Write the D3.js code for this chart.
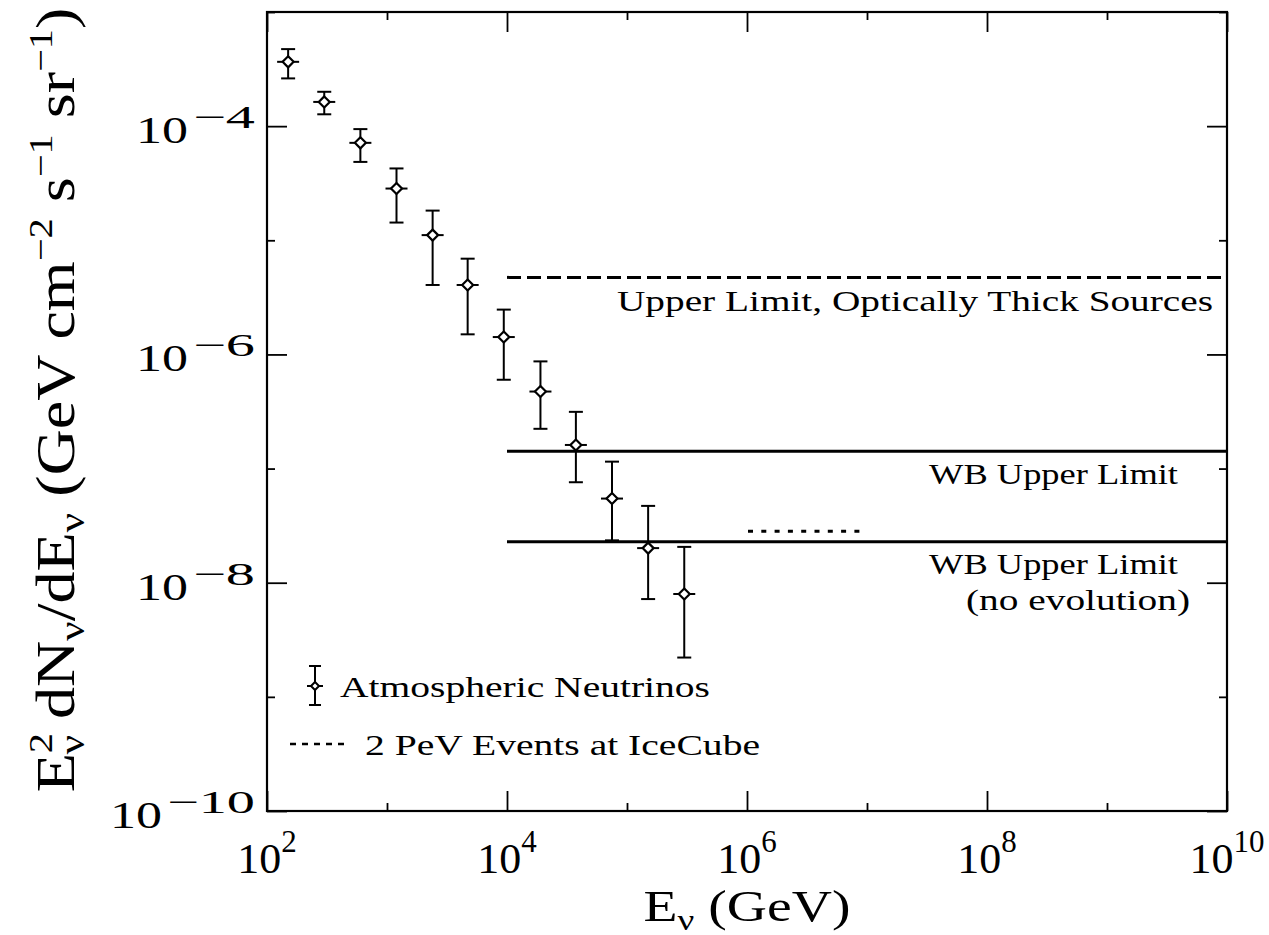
<!DOCTYPE html>
<html><head><meta charset="utf-8">
<script src="https://cdn.jsdelivr.net/npm/d3@7"></script>
<style>
body{margin:0;background:#fff}
svg{display:block}
text{font-family:"Liberation Serif",serif;fill:#000}
</style>
</head><body>
<svg id="c" width="1269" height="935"></svg>
<script>
// ---- data ----
const energy   = [150, 300, 600, 1200, 2400, 4700, 9400, 19000, 37500, 75000, 150000, 300000];
const flux     = [3.66e-4, 1.63e-4, 7.14e-5, 2.84e-5, 1.11e-5, 4.06e-6, 1.42e-6, 4.73e-7, 1.61e-7, 5.46e-8, 2.01e-8, 7.96e-9];
const fluxHigh = [4.73e-4, 2.00e-4, 9.42e-5, 4.26e-5, 1.82e-5, 6.90e-6, 2.47e-6, 8.69e-7, 3.14e-7, 1.15e-7, 4.71e-8, 2.06e-8];
const fluxLow  = [2.62e-4, 1.27e-4, 4.86e-5, 1.43e-5, 4.06e-6, 1.50e-6, 6.00e-7, 2.23e-7, 7.59e-8, 2.35e-8, 7.19e-9, 2.21e-9];

const limitNames  = ["Upper Limit, Optically Thick Sources", "WB Upper Limit", "WB Upper Limit"];
const limitSub    = ["", "", "(no evolution)"];
const limitValues = [4.73e-6, 1.42e-7, 2.29e-8];
const limitFrom   = [1e4, 1e4, 1e4];
const limitTo     = [1e10, 1e10, 1e10];

const iceCubeValue = 2.82e-8;
const iceCubeRange = [1e6, 1e7];

const legendLabels = ["Atmospheric Neutrinos", "2 PeV Events at IceCube"];

const xMajorTicks = [1e2, 1e4, 1e6, 1e8, 1e10];
const xTickExp    = ["2", "4", "6", "8", "10"];
const xMinorTicks = [1e3, 1e5, 1e7, 1e9];
const yMajorTicks = [1e-10, 1e-8, 1e-6, 1e-4];
const yTickExp    = ["\u221210", "\u22128", "\u22126", "\u22124"];
const yMinorTicks = [1e-9, 1e-7, 1e-5, 1e-3];

// ---- layout ----
const L = 267, R = 1227, T = 12, B = 811;
const svg = d3.select("#c");
const x = d3.scaleLog().domain([1e2, 1e10]).range([L, R]);
const y = d3.scaleLog().domain([1e-10, 1e-3]).range([B, T]);

// axes with ticks pointing inward, on all four sides
function ax(gen, scale, vals, size, tr) {
  const g = svg.append("g").attr("transform", tr)
    .call(gen(scale).tickValues(vals).tickSizeInner(-size).tickSizeOuter(0).tickFormat(""));
  g.selectAll("path").remove();
  g.selectAll("line").attr("stroke", "#000").attr("stroke-width", 1.8);
  return g;
}
ax(d3.axisBottom, x, xMajorTicks, 20, `translate(0,${B})`);
ax(d3.axisBottom, x, xMinorTicks, 8, `translate(0,${B})`);
ax(d3.axisTop, x, xMajorTicks, 20, `translate(0,${T})`);
ax(d3.axisTop, x, xMinorTicks, 8, `translate(0,${T})`);
ax(d3.axisLeft, y, yMajorTicks, 20, `translate(${L},0)`);
ax(d3.axisLeft, y, yMinorTicks, 8, `translate(${L},0)`);
ax(d3.axisRight, y, yMajorTicks, 20, `translate(${R},0)`);
ax(d3.axisRight, y, yMinorTicks, 8, `translate(${R},0)`);

svg.append("rect").attr("x", L).attr("y", T).attr("width", R - L).attr("height", B - T)
  .attr("fill", "none").attr("stroke", "#000").attr("stroke-width", 2.2);

// tick labels
xMajorTicks.forEach((v, i) => {
  const t = svg.append("text").attr("x", x(v)).attr("y", B + 62).attr("text-anchor", "middle");
  t.append("tspan").attr("font-size", 42).attr("textLength", 44).attr("lengthAdjust", "spacingAndGlyphs").text("10");
  t.append("tspan").attr("font-size", 31).attr("dy", -21).text(xTickExp[i]);
});
yMajorTicks.forEach((v, i) => {
  const t = svg.append("text").attr("x", 255).attr("y", y(v) + 17).attr("text-anchor", "end");
  t.append("tspan").attr("font-size", 38).attr("textLength", 52).attr("lengthAdjust", "spacingAndGlyphs").text("10");
  t.append("tspan").attr("font-size", 32).attr("dx", 5).attr("dy", -15)
    .attr("textLength", i === 0 ? 88 : 62).attr("lengthAdjust", "spacingAndGlyphs").text(yTickExp[i]);
});

// axis titles
const xt = svg.append("text").attr("text-anchor", "middle").attr("font-size", 45);
xt.append("tspan").text("E");
xt.append("tspan").attr("font-size", 30).attr("dy", 9).text("\u03bd");
xt.append("tspan").attr("dy", -9).text(" (GeV)");
{
  const w = xt.node().getBBox().width;
  xt.attr("transform", `translate(747,921) scale(${207 / w},1)`);
}

const yt = svg.append("text").attr("text-anchor", "middle").attr("font-size", 54);
yt.append("tspan").text("E");
yt.append("tspan").attr("font-size", 34).attr("dy", -22).text("2");
yt.append("tspan").attr("font-size", 36).attr("dx", -18).attr("dy", 32).text("\u03bd");
yt.append("tspan").attr("dy", -10).text(" dN");
yt.append("tspan").attr("font-size", 36).attr("dy", 10).text("\u03bd");
yt.append("tspan").attr("dy", -10).text("/dE");
yt.append("tspan").attr("font-size", 36).attr("dy", 10).text("\u03bd");
yt.append("tspan").attr("dy", -10).text("  (GeV  cm");
yt.append("tspan").attr("font-size", 34).attr("dy", -22).text("\u22122");
yt.append("tspan").attr("dy", 22).text("  s");
yt.append("tspan").attr("font-size", 34).attr("dy", -22).text("\u22121");
yt.append("tspan").attr("dy", 22).text("  sr");
yt.append("tspan").attr("font-size", 34).attr("dy", -22).text("\u22121");
yt.append("tspan").attr("dy", 22).text(")");
{
  const w = yt.node().getBBox().width;
  yt.attr("transform", `translate(74,400) rotate(-90) scale(${785 / w},1)`);
}

// limit lines
const limitDash = ["14,6", null, null];
limitValues.forEach((v, i) => {
  svg.append("line").attr("x1", x(limitFrom[i])).attr("x2", x(limitTo[i]))
    .attr("y1", y(v)).attr("y2", y(v)).attr("stroke", "#000").attr("stroke-width", 3)
    .attr("stroke-dasharray", limitDash[i]);
});
// IceCube dotted
svg.append("line").attr("x1", x(iceCubeRange[0]) + 1).attr("x2", x(iceCubeRange[1]))
  .attr("y1", y(iceCubeValue)).attr("y2", y(iceCubeValue))
  .attr("stroke", "#000").attr("stroke-width", 3).attr("stroke-dasharray", "5,8.3");

// limit labels
const labX = [617, 929, 929], labW = [596, 249, 249], labDy = [34, 33, 32];
limitNames.forEach((s, i) => {
  svg.append("text").attr("x", labX[i]).attr("y", y(limitValues[i]) + labDy[i])
    .attr("font-size", 30).attr("textLength", labW[i]).attr("lengthAdjust", "spacingAndGlyphs").text(s);
});
svg.append("text").attr("x", 966).attr("y", y(limitValues[2]) + 68)
  .attr("font-size", 30).attr("textLength", 224).attr("lengthAdjust", "spacingAndGlyphs").text(limitSub[2]);

// data points with error bars
const pts = svg.append("g").attr("stroke", "#000").attr("stroke-width", 2).attr("fill", "none");
energy.forEach((e, i) => {
  const cx = x(e), cy = y(flux[i]), yh = y(fluxHigh[i]), yl = y(fluxLow[i]);
  pts.append("line").attr("x1", cx).attr("x2", cx).attr("y1", yh).attr("y2", yl);
  pts.append("line").attr("x1", cx - 7).attr("x2", cx + 7).attr("y1", yh).attr("y2", yh);
  pts.append("line").attr("x1", cx - 7).attr("x2", cx + 7).attr("y1", yl).attr("y2", yl);
  pts.append("line").attr("x1", cx - 11).attr("x2", cx + 11).attr("y1", cy).attr("y2", cy);
  pts.append("path").attr("d", `M${cx},${cy - 5.5}L${cx + 5.5},${cy}L${cx},${cy + 5.5}L${cx - 5.5},${cy}Z`)
    .attr("fill", "#fff").attr("stroke-width", 2.2);
});

// legend
const lg = svg.append("g").attr("stroke", "#000").attr("stroke-width", 2).attr("fill", "none");
const lx = 315, ly = 686;
lg.append("line").attr("x1", lx).attr("x2", lx).attr("y1", ly - 20).attr("y2", ly + 19);
lg.append("line").attr("x1", lx - 6).attr("x2", lx + 6).attr("y1", ly - 20).attr("y2", ly - 20);
lg.append("line").attr("x1", lx - 6).attr("x2", lx + 6).attr("y1", ly + 19).attr("y2", ly + 19);
lg.append("line").attr("x1", lx - 8).attr("x2", lx + 8).attr("y1", ly).attr("y2", ly);
lg.append("path").attr("d", `M${lx},${ly - 4}L${lx + 4},${ly}L${lx},${ly + 4}L${lx - 4},${ly}Z`).attr("fill", "#fff");
lg.append("line").attr("x1", 290).attr("x2", 348).attr("y1", 744).attr("y2", 744)
  .attr("stroke-width", 2.5).attr("stroke-dasharray", "6,6");
svg.append("text").attr("x", 340).attr("y", 697).attr("font-size", 30)
  .attr("textLength", 370).attr("lengthAdjust", "spacingAndGlyphs").text(legendLabels[0]);
svg.append("text").attr("x", 365).attr("y", 755).attr("font-size", 30)
  .attr("textLength", 395).attr("lengthAdjust", "spacingAndGlyphs").text(legendLabels[1]);
</script>
</body></html>
